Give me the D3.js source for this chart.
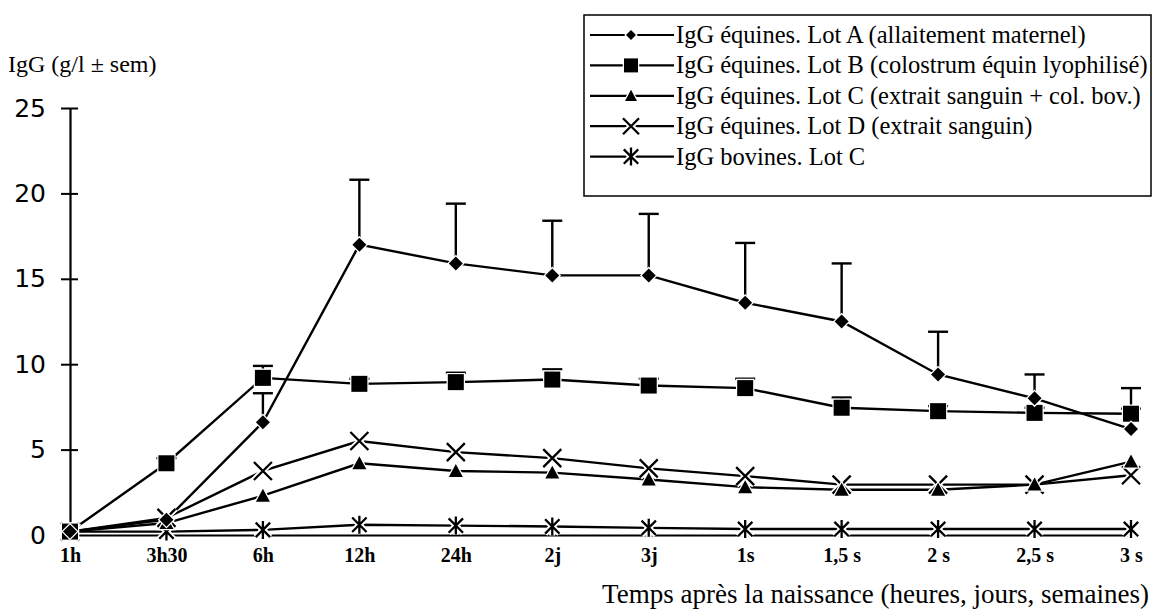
<!DOCTYPE html>
<html lang="fr">
<head>
<meta charset="utf-8">
<script src="https://d3js.org/d3.v7.min.js"></script>
<style>
  body { margin: 0; background: #fff; }
  svg { display: block; }
</style>
</head>
<body>
<script>
// size of the picture
var w = 1159, h = 611;

// time points
var categories = ["1h", "3h30", "6h", "12h", "24h", "2j", "3j", "1s", "1,5 s", "2 s", "2,5 s", "3 s"];

// IgG équines, Lot A (allaitement maternel) + sem
var lotA = [0.2, 0.9, 6.6, 17.0, 15.9, 15.2, 15.2, 13.6, 12.5, 9.4, 8.0, 6.2];
var semA = [0, 0, 1.7, 3.8, 3.5, 3.2, 3.6, 3.5, 3.4, 2.5, 1.4, 2.4];

// IgG équines, Lot B (colostrum équin lyophilisé) + sem
var lotB = [0.2, 4.2, 9.2, 8.85, 8.95, 9.1, 8.75, 8.6, 7.45, 7.25, 7.15, 7.1];
var semB = [0, 0.3, 0.7, 0.3, 0.55, 0.6, 0.4, 0.55, 0.6, 0.3, 0.3, 0.3];

// IgG équines, Lot C (extrait sanguin + col. bov.)
var lotC = [0.2, 0.7, 2.3, 4.2, 3.75, 3.65, 3.25, 2.8, 2.65, 2.65, 2.95, 4.3];

// IgG équines, Lot D (extrait sanguin)
var lotD = [0.2, 1.0, 3.75, 5.5, 4.85, 4.5, 3.9, 3.45, 2.95, 2.95, 2.95, 3.5];

// IgG bovines, Lot C
var bovC = [0.2, 0.2, 0.3, 0.6, 0.55, 0.5, 0.42, 0.35, 0.35, 0.35, 0.35, 0.35];

var yTicks = [0, 5, 10, 15, 20, 25];

var series = [
  {name: "IgG équines. Lot A (allaitement maternel)", values: lotA, sem: semA, marker: "diamond"},
  {name: "IgG équines. Lot B (colostrum équin lyophilisé)", values: lotB, sem: semB, marker: "square"},
  {name: "IgG équines. Lot C (extrait sanguin + col. bov.)", values: lotC, sem: null, marker: "triangle"},
  {name: "IgG équines. Lot D (extrait sanguin)", values: lotD, sem: null, marker: "cross"},
  {name: "IgG bovines. Lot C", values: bovC, sem: null, marker: "star"}
];

var serif = "'Liberation Serif', 'Times New Roman', serif";

var x = d3.scalePoint().domain(categories).range([70, 1131]);
var y = d3.scaleLinear().domain([0, 25]).range([535, 108]);

var svg = d3.select("body").append("svg")
    .attr("width", w)
    .attr("height", h);

// y axis
var yAxis = svg.append("g")
    .attr("transform", "translate(70,0)")
    .call(d3.axisLeft(y).tickValues(yTicks).tickSizeInner(9).tickSizeOuter(0).tickPadding(15));
yAxis.select(".domain").attr("stroke-width", 2.2);
yAxis.selectAll(".tick line").attr("x1", 8).attr("stroke-width", 2);
yAxis.selectAll(".tick text")
    .style("font-family", "'DejaVu Sans', sans-serif")
    .style("font-size", "25px")
    .attr("fill", "#000");

// x axis
var xAxis = svg.append("g")
    .attr("transform", "translate(0," + y(0) + ")")
    .call(d3.axisBottom(x).tickSize(0).tickPadding(13));
xAxis.select(".domain").attr("stroke-width", 2);
xAxis.selectAll(".tick text")
    .style("font-family", serif)
    .style("font-size", "20px")
    .style("font-weight", "bold")
    .attr("fill", "#000");

// axis titles
svg.append("text")
    .attr("x", 8).attr("y", 72)
    .style("font-family", serif)
    .style("font-size", "24px")
    .text("IgG (g/l ± sem)");

svg.append("text")
    .attr("x", 1149).attr("y", 603)
    .attr("text-anchor", "end")
    .style("font-family", serif)
    .style("font-size", "27px")
    .text("Temps après la naissance (heures, jours, semaines)");

// marker shapes
function markerPath(type, s) {
  if (type === "diamond") return "M0," + (-s) + "L" + s + ",0L0," + s + "L" + (-s) + ",0Z";
  if (type === "square") return "M" + (-s) + "," + (-s) + "h" + 2 * s + "v" + 2 * s + "h" + (-2 * s) + "Z";
  if (type === "triangle") return "M0," + (-s) + "L" + s + "," + (s * 0.85) + "L" + (-s) + "," + (s * 0.85) + "Z";
  if (type === "cross") return "M" + (-s) + "," + (-s) + "L" + s + "," + s + "M" + s + "," + (-s) + "L" + (-s) + "," + s;
  // star : X + vertical bar
  var d = s * 0.8;
  return "M" + (-d) + "," + (-d) + "L" + d + "," + d + "M" + d + "," + (-d) + "L" + (-d) + "," + d +
         "M0," + (-s) + "L0," + s;
}
var markerSize = {diamond: 7, square: 8, triangle: 7, cross: 9, star: 9};
var legendSize = {diamond: 5, square: 7, triangle: 6, cross: 8, star: 9};

function drawMarker(g, type, s) {
  var filled = (type === "diamond" || type === "square" || type === "triangle");
  if (filled) {
    g.append("path").attr("d", markerPath(type, s))
        .attr("fill", "#000").attr("stroke", "#fff").attr("stroke-width", 2.5)
        .style("paint-order", "stroke");
  } else {
    g.append("path").attr("d", markerPath(type, s))
        .attr("fill", "none").attr("stroke", "#fff").attr("stroke-width", 6);
    g.append("path").attr("d", markerPath(type, s))
        .attr("fill", "none").attr("stroke", "#000").attr("stroke-width", 2.3);
  }
}

var line = d3.line()
    .x(function(d, i) { return x(categories[i]); })
    .y(function(d) { return y(d); });

// lines
series.forEach(function(s) {
  svg.append("path")
      .datum(s.values)
      .attr("d", line)
      .attr("fill", "none")
      .attr("stroke", "#000")
      .attr("stroke-width", 2.4);
});

// error bars (upper half only)
series.forEach(function(s) {
  if (!s.sem) return;
  s.values.forEach(function(v, i) {
    if (!s.sem[i]) return;
    var cx = x(categories[i]);
    var g = svg.append("g").attr("stroke", "#000").attr("stroke-width", 2.4);
    g.append("line").attr("x1", cx).attr("x2", cx).attr("y1", y(v)).attr("y2", y(v + s.sem[i]));
    g.append("line").attr("x1", cx - 10).attr("x2", cx + 10)
        .attr("y1", y(v + s.sem[i])).attr("y2", y(v + s.sem[i]));
  });
});

// markers
series.slice().reverse().forEach(function(s) {
  s.values.forEach(function(v, i) {
    var g = svg.append("g").attr("transform", "translate(" + x(categories[i]) + "," + y(v) + ")");
    drawMarker(g, s.marker, markerSize[s.marker]);
  });
});

// legend
var legend = svg.append("g");
legend.append("rect")
    .attr("x", 584).attr("y", 15)
    .attr("width", 567).attr("height", 181)
    .attr("fill", "#fff").attr("stroke", "#000").attr("stroke-width", 1.5);

series.forEach(function(s, i) {
  var cy = 35 + i * 30.4;
  var row = legend.append("g");
  row.append("line").attr("x1", 590).attr("x2", 674).attr("y1", cy).attr("y2", cy)
      .attr("stroke", "#000").attr("stroke-width", 2.2);
  var m = row.append("g").attr("transform", "translate(631," + cy + ")");
  drawMarker(m, s.marker, legendSize[s.marker]);
  row.append("text")
      .attr("x", 676).attr("y", cy + 8)
      .style("font-family", serif)
      .style("font-size", "24.5px")
      .text(s.name);
});
</script>
</body>
</html>
